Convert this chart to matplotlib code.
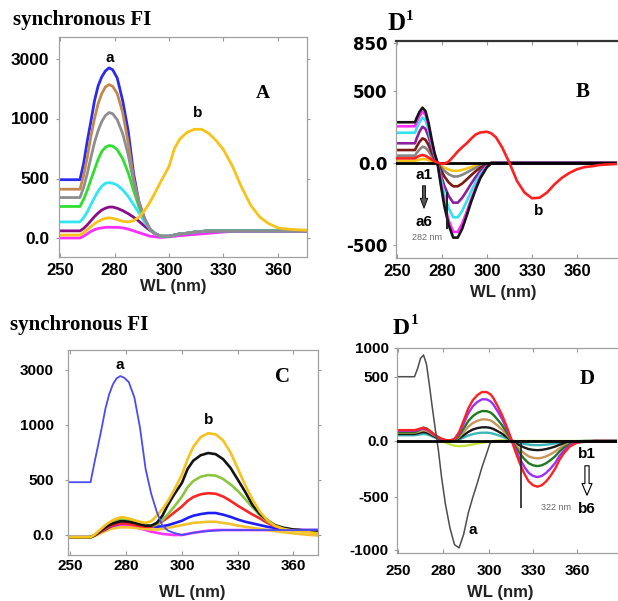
import numpy as np
import matplotlib
matplotlib.use("Agg")
import matplotlib.pyplot as plt
from matplotlib.ticker import NullLocator
from matplotlib.patches import FancyArrowPatch

# ---------------------------------------------------------------- data
# Panel A: synchronous fluorescence, series a (a1..a7) and b
WL_A = [250, 261, 263, 265, 267, 269, 271, 273, 275, 277, 279, 281, 283, 285, 287, 289,
        291, 293, 295, 297, 300, 303, 306, 310, 314, 318, 322, 326, 330, 335, 340, 345,
        350, 355, 360, 365, 370, 376]
A_BLUE = [490, 490, 625, 810, 975, 1600, 2100, 2400, 2600, 2700, 2640, 2360, 1600, 900, 540, 300,
          165, 75, 35, 15, 15, 25, 35, 40, 50, 55, 60, 60, 60, 60, 60, 60, 60, 60, 60, 60, 60, 60]
A_BROWN = [410, 410, 525, 675, 850, 1000, 1500, 1840, 2060, 2140, 2080, 1840, 1200, 800, 500, 300,
           165, 75, 35, 15, 15, 25, 35, 40, 50, 55, 60, 60, 60, 60, 60, 60, 60, 60, 60, 60, 60, 60]
A_GRAY = [340, 340, 425, 540, 675, 800, 900, 975, 1100, 1200, 1160, 990, 875, 700, 475, 290,
          160, 75, 35, 15, 15, 25, 35, 40, 50, 55, 60, 60, 60, 60, 60, 60, 60, 60, 60, 60, 60, 60]
A_GREEN = [265, 265, 325, 400, 490, 575, 660, 725, 760, 775, 770, 740, 665, 550, 400, 260,
           150, 75, 35, 15, 15, 25, 35, 40, 50, 55, 60, 60, 60, 60, 60, 60, 60, 60, 60, 60, 60, 60]
A_CYAN = [135, 135, 170, 220, 280, 340, 395, 435, 460, 465, 460, 445, 405, 350, 280, 210,
          135, 75, 35, 15, 15, 25, 35, 40, 50, 55, 60, 60, 60, 60, 60, 60, 60, 60, 60, 60, 60, 60]
A_PURPLE = [60, 60, 80, 110, 145, 180, 210, 235, 250, 260, 260, 250, 230, 205, 175, 140,
            100, 65, 35, 15, 15, 25, 35, 40, 50, 55, 60, 60, 60, 60, 60, 60, 60, 60, 60, 60, 60, 60]
A_MAGENTA = [0, 0, 15, 35, 55, 70, 80, 85, 90, 90, 90, 90, 85, 75, 60, 45,
             30, 15, 10, 5, 10, 15, 20, 25, 30, 35, 40, 45, 50, 55, 55, 55, 55, 55, 55, 55, 55, 55]
A_YELLOW_B = [25, 25, 45, 70, 95, 120, 140, 155, 165, 170, 165, 155, 140, 135, 145, 175,
              230, 300, 385, 475, 600, 750, 830, 885, 910, 910, 875, 815, 740, 600, 425, 275,
              175, 120, 85, 75, 70, 65]

# Panel B: first-derivative spectra of series a (a1..a6) and b
WL_B = [250, 262, 263, 265, 267, 269, 271, 273, 275, 277, 279, 281, 283, 285, 287, 289,
        291, 293, 295, 297, 300, 303, 306, 310, 315, 320, 325, 330, 335, 340, 345, 350,
        355, 360, 365, 370, 375, 388]
B_BLACK = [283, 283, 310, 355, 384, 360, 280, 170, 70, 0, -120, -260, -380, -455, -455, -400,
           -320, -235, -160, -93, -25, 0, 0, 0, 0, 0, 0, 0, 0, 0, 0, 0, 0, 0, 0, 0, 0, 0]
B_MAGENTA = [255, 255, 282, 326, 356, 335, 260, 157, 64, 0, -112, -240, -352, -420, -420, -369,
             -296, -219, -150, -86, -21, 0, 0, 0, 0, 0, 0, 0, 0, 0, 0, 0, 0, 0, 0, 0, 0, 0]
B_CYAN = [210, 210, 238, 284, 315, 296, 230, 139, 57, 0, -87, -189, -277, -331, -331, -291,
          -233, -171, -116, -68, -18, 0, 0, 0, 0, 0, 0, 0, 0, 0, 0, 0, 0, 0, 0, 0, 0, 0]
B_PURPLE = [137, 137, 168, 218, 252, 237, 184, 111, 45, 0, -64, -138, -202, -242, -242, -212,
            -170, -125, -85, -49, -13, 0, 0, 0, 0, 0, 0, 0, 0, 0, 0, 0, 0, 0, 0, 0, 0, 0]
B_BROWN = [90, 90, 112, 147, 171, 161, 125, 75, 31, 0, -38, -81, -119, -142, -142, -125,
           -100, -74, -50, -29, -8, 0, 0, 0, 0, 0, 0, 0, 0, 0, 0, 0, 0, 0, 0, 0, 0, 0]
B_GRAY = [51, 51, 68, 94, 113, 106, 82, 50, 20, 0, -22, -47, -69, -82, -82, -72,
          -58, -43, -29, -17, -5, 0, 0, 0, 0, 0, 0, 0, 0, 0, 0, 0, 0, 0, 0, 0, 0, 0]
B_YELLOW = [14, 14, 18, 24, 28, 26, 20, 12, 5, 0, -13, -28, -40, -48, -48, -42,
            -34, -25, -17, -10, -3, 0, 0, 0, 0, 0, 0, 0, 0, 0, 0, 0, 0, 0, 0, 0, 0, 0]
B_RED_B = [32, 32, 40, 50, 56, 50, 38, 25, 12, 3, -3, -5, 10, 44, 80, 110,
           137, 170, 198, 212, 217, 205, 178, 110, 0, -110, -180, -215, -212, -180, -130, -90,
           -60, -38, -25, -20, -12, -5]
B_MARK_WL = 282

# Panel C: synchronous fluorescence, series a and b (b1..b6)
WL_C = [250, 261, 263, 265, 267, 269, 271, 273, 275, 277, 279, 281, 283, 285, 287, 289,
        291, 293, 295, 297, 300, 303, 306, 310, 314, 318, 322, 326, 330, 334, 338, 342,
        346, 350, 355, 360, 366, 374]
C_A = [480, 480, 650, 810, 975, 1600, 2120, 2480, 2700, 2780, 2720, 2560, 2000, 975, 600, 375,
       210, 85, 40, 20, 0, 10, 20, 30, 35, 40, 45, 45, 45, 45, 45, 45, 45, 45, 45, 45, 45, 45]
C_YELLOW = [-20, -20, 0, 30, 60, 90, 115, 135, 150, 160, 160, 150, 135, 120, 110, 125,
            175, 235, 310, 400, 550, 690, 800, 890, 925, 915, 860, 750, 600, 450, 320, 210,
            135, 85, 55, 40, 30, 15]
C_BLACK = [-20, -20, -5, 20, 45, 70, 90, 105, 115, 125, 125, 120, 110, 95, 85, 85,
           110, 175, 275, 360, 475, 600, 675, 725, 745, 735, 690, 610, 500, 390, 270, 190,
           135, 90, 65, 50, 40, 30]
C_GREEN = [-20, -20, 0, 25, 50, 80, 100, 120, 135, 140, 140, 135, 120, 105, 90, 85,
           95, 135, 190, 250, 350, 435, 490, 530, 545, 540, 510, 460, 400, 325, 250, 180,
           125, 85, 60, 50, 40, 30]
C_RED = [-20, -20, -5, 15, 35, 55, 75, 90, 100, 105, 105, 100, 90, 80, 75, 75,
         95, 125, 160, 200, 260, 310, 345, 370, 380, 375, 350, 310, 265, 225, 185, 150,
         110, 80, 60, 50, 40, 30]
C_BLUE = [-20, -20, -5, 15, 35, 50, 70, 85, 95, 105, 110, 110, 100, 90, 85, 80,
          75, 80, 90, 105, 130, 155, 175, 190, 200, 200, 185, 165, 140, 120, 105, 90,
          75, 65, 55, 50, 45, 45]
C_YELLOW_LOW = [-20, -20, -10, 5, 20, 35, 50, 60, 65, 70, 70, 70, 65, 60, 55, 50,
                50, 55, 65, 75, 90, 100, 110, 115, 120, 120, 110, 100, 85, 75, 65, 55,
                45, 35, 25, 15, 5, -5]
C_MAGENTA = [-20, -20, -5, 15, 35, 55, 70, 80, 85, 90, 90, 85, 75, 60, 45, 30,
             20, 10, 5, 0, 0, 10, 20, 30, 40, 45, 45, 45, 45, 45, 45, 45,
             45, 45, 45, 45, 45, 45]

# Panel D: first-derivative spectra of series a and b (b1..b6)
WL_D = [250, 261, 263, 265, 267, 269, 271, 273, 275, 277, 279, 281, 283, 285, 287, 289,
        291, 293, 295, 297, 299, 301, 303, 306, 309, 312, 315, 318, 321, 324, 327, 330,
        333, 336, 339, 342, 345, 348, 351, 355, 360, 366, 372, 388]
D_A = [505, 505, 640, 820, 880, 720, 430, 250, 80, -90, -320, -560, -790, -950, -980, -850,
       -650, -500, -370, -230, -110, -10, 0, 0, 0, 0, 0, 0, 0, 0, 0, 0,
       0, 0, 0, 0, 0, 0, 0, 0, 0, 0, 0, 0]
D_RED = [85, 85, 90, 98, 102, 95, 80, 62, 45, 30, 18, 8, 5, 15, 70, 160,
         255, 320, 360, 383, 382, 365, 335, 270, 200, 115, 20, -95, -200, -290, -360, -395,
         -408, -395, -360, -310, -250, -170, -110, -50, -15, -5, 0, 0]
D_PURPLE = [80, 80, 85, 92, 97, 90, 76, 58, 42, 28, 16, 7, 4, 13, 60, 136,
            217, 272, 306, 326, 325, 310, 285, 230, 170, 98, 17, -75, -158, -229, -284, -312,
            -322, -312, -284, -245, -198, -134, -87, -40, -12, -4, 0, 0]
D_GREEN = [70, 70, 78, 92, 105, 98, 82, 62, 44, 28, 15, 5, 0, 5, 43, 98,
           156, 195, 220, 234, 233, 223, 204, 165, 122, 70, 12, -52, -110, -160, -198, -217,
           -224, -217, -198, -170, -138, -94, -60, -28, -8, -3, 0, 0]
D_TAN = [65, 65, 70, 78, 84, 80, 68, 52, 38, 25, 13, 4, 0, 3, 31, 70,
         112, 141, 158, 169, 168, 161, 147, 119, 88, 51, 9, -36, -76, -110, -137, -150,
         -155, -150, -137, -118, -95, -65, -42, -19, -6, -2, 0, 0]
D_BLACK = [55, 55, 60, 66, 70, 66, 56, 43, 31, 20, 10, 2, -3, 0, 20, 45,
           71, 90, 101, 107, 107, 102, 94, 76, 56, 32, 6, -19, -40, -58, -72, -79,
           -82, -79, -72, -62, -50, -34, -22, -10, -3, 0, 0, 0]
D_TEAL = [45, 45, 48, 52, 55, 52, 45, 35, 25, 16, 8, 2, -2, 0, 12, 27,
          43, 54, 61, 65, 65, 62, 57, 46, 34, 20, 3, -9, -18, -26, -32, -36,
          -37, -36, -32, -28, -22, -15, -10, -5, -1, 0, 0, 0]
D_LIME = [55, 55, 60, 70, 78, 74, 62, 48, 34, 20, 5, -12, -30, -42, -46, -44,
          -38, -30, -22, -15, -8, -3, 0, 3, 5, 5, 3, 0, 0, 0, 0, 0,
          0, 0, 0, 0, 0, 0, 0, 0, 0, 0, 0, 0]
D_MARK_WL = 322

# Axis ticks and their labels
WL_TICKS = [250, 280, 300, 330, 360]
WL_TICK_LABELS = ["250", "280", "300", "330", "360"]
FI_TICKS = [0, 500, 1000, 3000]
FI_TICK_LABELS = ["0.0", "500", "1000", "3000"]
B_TICKS = [-500, 0, 500, 850]
B_TICK_LABELS = ["-500", "0.0", "500", "850"]
D_TICKS = [-1000, -500, 0, 500, 1000]
D_TICK_LABELS = ["-1000", "-500", "0.0", "500", "1000"]

# ---------------------------------------------------------------- layout
W, H = 618, 601
fig = plt.figure(figsize=(W / 100, H / 100), dpi=100)
fig.patch.set_facecolor("white")


def fpx(x, y):
    return x / W, 1 - y / H


def piecewise(values, positions):
    """Piecewise-linear axis scale (uneven tick spacing), linear beyond the ends."""
    v = np.asarray(values, float)
    p = np.asarray(positions, float)

    def make(a, b):
        s0 = (b[1] - b[0]) / (a[1] - a[0])
        s1 = (b[-1] - b[-2]) / (a[-1] - a[-2])

        def f(x):
            x = np.asarray(x, float)
            y = np.interp(x, a, b)
            y = np.where(x < a[0], b[0] + (x - a[0]) * s0, y)
            y = np.where(x > a[-1], b[-1] + (x - a[-1]) * s1, y)
            return y
        return f
    return make(v, p), make(p, v)


def panel(frame, xcols, yticks, yrows, ylabels, yfont, xfont, yfs, xfs, ypad, xpad):
    l, t, r, b = frame
    ax = fig.add_axes([l / W, 1 - b / H, (r - l) / W, (b - t) / H])
    fx, ix = piecewise(WL_TICKS, xcols)
    fy, iy = piecewise(yticks, [-rw for rw in yrows])
    ax.set_xscale("function", functions=(fx, ix))
    ax.set_yscale("function", functions=(fy, iy))
    ax.set_xlim(float(ix(l)), float(ix(r)))
    ax.set_ylim(float(iy(-b)), float(iy(-t)))
    ax.set_xticks(WL_TICKS, labels=WL_TICK_LABELS)
    ax.set_yticks(yticks, labels=ylabels)
    ax.xaxis.set_minor_locator(NullLocator())
    ax.yaxis.set_minor_locator(NullLocator())
    ax.tick_params(axis="x", direction="in", length=3, width=0.8, color="#9a9a9a",
                   top=True, pad=xpad)
    ax.tick_params(axis="y", direction="out", length=2, width=0.8, color="#9a9a9a",
                   right=False, pad=ypad)
    for lab in ax.get_xticklabels():
        lab.set_fontfamily(xfont)
        lab.set_fontweight("bold")
        lab.set_fontsize(xfs)
    for lab in ax.get_yticklabels():
        lab.set_fontfamily(yfont)
        lab.set_fontweight("bold")
        lab.set_fontsize(yfs)
    for sp in ax.spines.values():
        sp.set_color("#a0a0a0")
        sp.set_linewidth(0.9)
    ax.set_facecolor("none")
    return ax


def text(x, y, s, size=11, family="Liberation Sans", weight="bold", color="black",
         ha="center", va="center"):
    fig.text(*fpx(x, y), s, fontsize=size, fontfamily=family, fontweight=weight,
             color=color, ha=ha, va=va)


LW = 2.0

# ---------------------------------------------------------------- panel A
axA = panel((59, 37, 307, 257), [60, 114.5, 169, 223.5, 278], FI_TICKS,
            [238, 178.5, 118.5, 59], FI_TICK_LABELS, "Liberation Sans", "Liberation Sans",
            12.5, 12, 5, 4)
axA.tick_params(axis="y", right=True)
for vals, col in [(A_BLUE, "#2b2bf0"), (A_BROWN, "#c4884c"), (A_MAGENTA, "#ff2eff"),
                  (A_PURPLE, "#8a0c8a"), (A_GREEN, "#2fdf2f"), (A_CYAN, "#2fe6f2"),
                  (A_GRAY, "#8e8e8e"), (A_YELLOW_B, "#f7c31a")]:
    axA.plot(WL_A, vals, color=col, lw=LW, solid_joinstyle="round", solid_capstyle="butt")

text(13, 20, "synchronous FI", size=15, family="Liberation Serif", ha="left")
text(110, 58, "a", size=11)
text(198, 113, "b", size=11)
text(263, 94, "A", size=14, family="Liberation Serif")
text(173, 287, "WL (nm)", size=12, color="#222222")

# ---------------------------------------------------------------- panel B
axB = panel((396, 41, 617, 258), [397, 442, 487, 532, 577], B_TICKS,
            [245, 163, 91, 43], B_TICK_LABELS, "DejaVu Sans", "Liberation Sans",
            12, 12, 4, 4)
axB.spines["top"].set_color("#333333")
axB.spines["top"].set_linewidth(1.6)
axB.spines["right"].set_visible(False)
for vals, col in [(B_YELLOW, "#f5c518"), (B_GRAY, "#858585"), (B_BROWN, "#7b1a12"),
                  (B_PURPLE, "#8e1f9e"), (B_CYAN, "#2fe3ef"), (B_MAGENTA, "#ff2cff"),
                  (B_BLACK, "#151515")]:
    axB.plot(WL_B, vals, color=col, lw=1.9, solid_joinstyle="round", zorder=2)
axB.axhline(0, color="black", lw=2.0, zorder=3)
axB.plot(WL_B, B_RED_B, color="#ff2020", lw=1.9, solid_joinstyle="round", zorder=4)
axB.vlines(B_MARK_WL, -400, -175, color="#222222", lw=1.4, zorder=5)

text(387, 24, "D", size=18, family="Liberation Serif", ha="left")
text(406, 16, "1", size=11, family="Liberation Serif", ha="left")
text(424, 175, "a1", size=11)
text(424, 222, "a6", size=11)
text(427, 238, f"{B_MARK_WL} nm", size=6.5, weight="normal", color="#6a6a6a")
text(539, 211, "b", size=11)
text(583, 92, "B", size=15, family="Liberation Serif")
text(503, 293, "WL (nm)", size=12, color="#222222")
fig.add_artist(FancyArrowPatch(fpx(424, 183), fpx(424, 211), transform=fig.transFigure,
                               arrowstyle="simple,head_width=0.45,head_length=0.6,tail_width=0.18",
                               mutation_scale=12, fc="#555555", ec="black", lw=0.6))

# ---------------------------------------------------------------- panel C
axC = panel((68, 350, 318, 555), [70, 126, 182, 238, 293], FI_TICKS,
            [535, 480, 425, 370], FI_TICK_LABELS, "Liberation Sans", "Liberation Sans",
            11, 11, 8, 3)
axC.tick_params(axis="y", right=True)
for vals, col in [(C_MAGENTA, "#ff35ff"), (C_YELLOW_LOW, "#f2c12e"), (C_BLUE, "#1f1ff5"),
                  (C_RED, "#ff2424"), (C_GREEN, "#8cc63f"), (C_BLACK, "#141414"),
                  (C_YELLOW, "#f6c21c")]:
    axC.plot(WL_C, vals, color=col, lw=1.9, solid_joinstyle="round")
axC.plot(WL_C, C_A, color="#4b4bf5", lw=1.3, solid_joinstyle="round")

text(10, 325, "synchronous FI", size=15, family="Liberation Serif", ha="left")
text(120, 365, "a", size=11)
text(209, 420, "b", size=11)
text(282, 377, "C", size=15, family="Liberation Serif")
text(192, 593, "WL (nm)", size=12, color="#222222")

# ---------------------------------------------------------------- panel D
axD = panel((397, 348, 617, 553), [398, 443, 489, 533, 577], D_TICKS,
            [550, 497, 441, 377, 348], D_TICK_LABELS, "Liberation Sans", "Liberation Sans",
            11, 11, 4, 8)
axD.spines["right"].set_visible(False)
for vals, col in [(D_LIME, "#c6e33a"), (D_TEAL, "#3cb6b6"), (D_BLACK, "#1a1a1a"),
                  (D_TAN, "#c8955a"), (D_GREEN, "#1f7a1f"), (D_PURPLE, "#9b30ff"),
                  (D_RED, "#ff2222")]:
    axD.plot(WL_D, vals, color=col, lw=1.7, solid_joinstyle="round", zorder=2)
axD.plot(WL_D, D_A, color="#4d4d4d", lw=1.1, solid_joinstyle="round", zorder=2.5)
axD.axhline(0, color="black", lw=2.0, zorder=3)
axD.vlines(D_MARK_WL, -600, 0, color="#222222", lw=1.2, zorder=4)

text(393, 328, "D", size=17, family="Liberation Serif", ha="left")
text(411, 321, "1", size=11, family="Liberation Serif", ha="left")
text(473, 530, "a", size=11)
text(587, 454, "b1", size=11)
text(587, 509, "b6", size=11)
text(541, 507, f"{D_MARK_WL} nm", size=6.5, weight="normal", color="#6a6a6a", ha="left")
text(587, 379, "D", size=15, family="Liberation Serif")
text(500, 593, "WL (nm)", size=12, color="#222222")
fig.add_artist(FancyArrowPatch(fpx(587, 463), fpx(587, 498), transform=fig.transFigure,
                               arrowstyle="simple,head_width=0.6,head_length=0.7,tail_width=0.25",
                               mutation_scale=12, fc="white", ec="black", lw=0.8))

fig.savefig("out.png", dpi=100, facecolor="white")
